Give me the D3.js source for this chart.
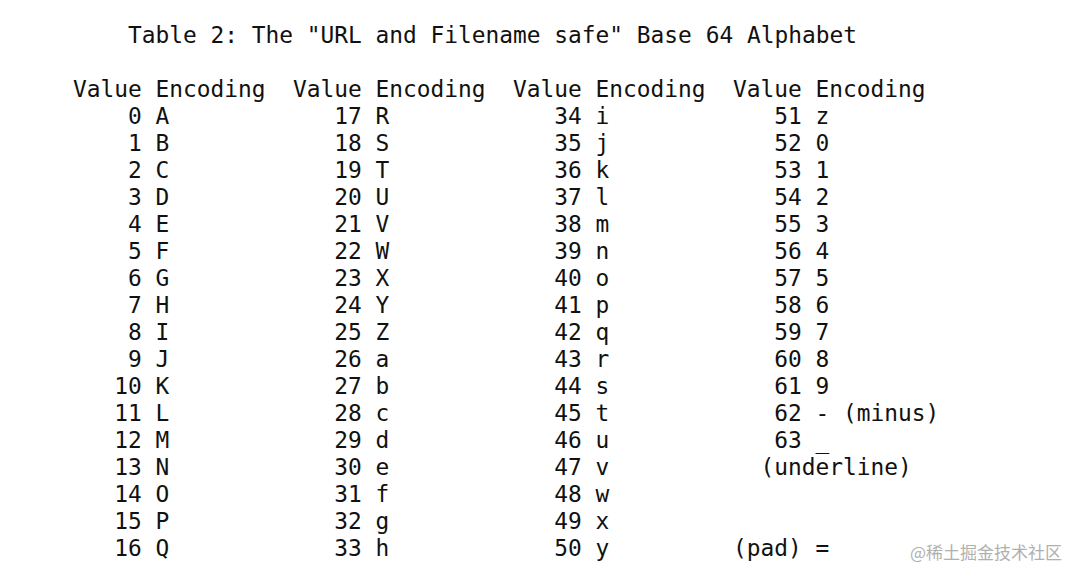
<!DOCTYPE html>
<html><head><meta charset="utf-8">
<script src="https://cdn.jsdelivr.net/npm/d3@7/dist/d3.min.js"></script>
<style>body{margin:0;background:#fff}text{font-family:"DejaVu Sans Mono",monospace;font-size:22.85px;fill:#111}</style>
</head><body>
<svg id="c" width="1080" height="582"></svg>
<script>
const title = 'Table 2: The "URL and Filename safe" Base 64 Alphabet';
const headers = ["Value Encoding", "Value Encoding", "Value Encoding", "Value Encoding"];
const values = [0,1,2,3,4,5,6,7,8,9,10,11,12,13,14,15,16,17,18,19,20,21,22,23,24,25,26,27,28,29,30,31,32,33,34,35,36,37,38,39,40,41,42,43,44,45,46,47,48,49,50,51,52,53,54,55,56,57,58,59,60,61,62,63];
const encodings = ["A","B","C","D","E","F","G","H","I","J","K","L","M","N","O","P","Q","R","S","T","U","V","W","X","Y","Z","a","b","c","d","e","f","g","h","i","j","k","l","m","n","o","p","q","r","s","t","u","v","w","x","y","z","0","1","2","3","4","5","6","7","8","9","- (minus)","_"];
const extras = [{col: 3, row: 13, text: "(underline)", off: 2}, {col: 3, row: 16, text: "(pad) =", off: 0}];

const ch = 13.75;
const svg = d3.select("#c");
const colX = d3.scaleLinear().domain([0, 1]).range([73, 293]);
const rowY = d3.scaleLinear().domain([0, 1]).range([124, 151]);

svg.append("text").attr("x", 73 + 4 * ch).attr("y", 43).text(title).attr("xml:space", "preserve");
svg.selectAll("text.h").data(headers).join("text").attr("class", "h")
  .attr("x", (d, i) => colX(i)).attr("y", 97).text(d => d);

const cells = values.map((v, i) => ({v, e: encodings[i], col: Math.floor(i / 17), row: i % 17}));
svg.selectAll("text.v").data(cells).join("text").attr("class", "v")
  .attr("x", d => colX(d.col) + 5 * ch).attr("y", d => rowY(d.row))
  .attr("text-anchor", "end").text(d => d.v);
svg.selectAll("text.e").data(cells).join("text").attr("class", "e")
  .attr("x", d => colX(d.col) + 6 * ch).attr("y", d => rowY(d.row))
  .attr("xml:space", "preserve").text(d => d.e);
svg.selectAll("text.x").data(extras).join("text").attr("class", "x")
  .attr("x", d => colX(d.col) + d.off * ch).attr("y", d => rowY(d.row))
  .attr("xml:space", "preserve").text(d => d.text);

svg.append("text").attr("x", 1062).attr("y", 559).attr("text-anchor", "end")
  .style("font-family", "'Noto Sans CJK SC'").style("font-size", "17px").style("fill", "#b0b0b0")
  .text("@稀土掘金技术社区");
</script>
</body></html>
